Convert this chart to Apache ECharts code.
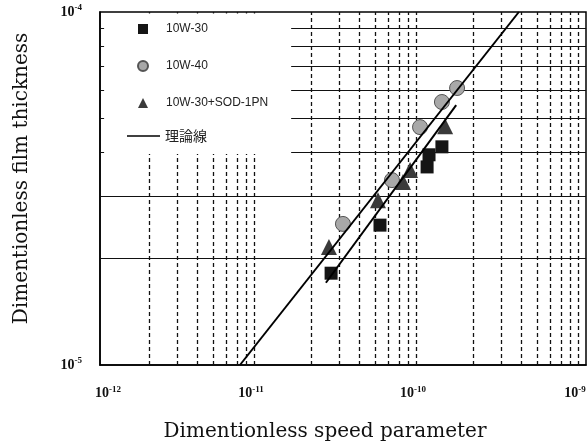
<!DOCTYPE html>
<html>
<head>
<meta charset="utf-8">
<script src="https://cdn.jsdelivr.net/npm/echarts@6/dist/echarts.min.js"></script>
<style>
  html, body { margin: 0; padding: 0; background: #fff; }
  #chart { width: 587px; height: 448px; }
</style>
</head>
<body>
<div id="chart"></div>
<script>
// measured points (log-log)
const oil30X = [2.67e-11, 5.35e-11, 1.045e-10, 1.074e-10, 1.29e-10];
const oil30Y = [1.82e-5, 2.49e-5, 3.64e-5, 3.94e-5, 4.15e-5];
const oil40X = [3.16e-11, 6.34e-11, 9.45e-11, 1.29e-10, 1.6e-10];
const oil40Y = [2.51e-5, 3.34e-5, 4.72e-5, 5.56e-5, 6.09e-5];
const sodX = [2.59e-11, 5.2e-11, 7.42e-11, 8.2e-11, 1.35e-10];
const sodY = [2.16e-5, 2.93e-5, 3.30e-5, 3.57e-5, 4.75e-5];

// theory lines
const theory1X = [7.31e-12, 3.85e-10];
const theory1Y = [1e-5, 1e-4];
const theory2X = [2.48e-11, 1.58e-10];
const theory2Y = [1.71e-5, 5.45e-5];

// axis range and grid lines
const xRange = [1e-12, 1e-9];
const yRange = [1e-5, 1e-4];
const xDecades = [1e-12, 1e-11, 1e-10];
const mantissas = [2, 3, 4, 5, 6, 7, 8, 9];
const yGridLines = [2e-5, 3e-5, 4e-5, 5e-5, 6e-5, 7e-5, 8e-5, 9e-5];
const yTickEnd = 1.06e-12; // short inward minor ticks on the left axis

const names = ['10W-30', '10W-40', '10W-30+SOD-1PN', '理論線'];

const zip = (xs, ys) => xs.map((x, i) => [x, ys[i]]);
const xGridLines = [];
xDecades.forEach(d => mantissas.forEach(m => xGridLines.push(m * d)));

const expOf = v => Math.round(Math.log10(v));
const yLabel = v => '{b|10}{s|' + expOf(v) + '}';
// x labels sit a little off their ticks in the original
const xLabel = v => {
    const e = expOf(v);
    if (e === -12) return '{g1|}{b|10}{s|' + e + '}';
    return '{b|10}{s|' + e + '}{g2|}';
};
const labelRich = {
    b: { fontFamily: 'Liberation Serif', fontSize: 14, fontWeight: 'bold', color: '#111' },
    s: { fontFamily: 'Liberation Serif', fontSize: 9, fontWeight: 'bold', color: '#111', padding: [0, 0, 8, 0] },
    g1: { width: 16 },
    g2: { width: 22 }
};

const chart = echarts.init(document.getElementById('chart'));
chart.setOption({
    animation: false,
    backgroundColor: '#fff',
    grid: {
        left: 100, right: 1, top: 12, bottom: 83,
        outerBoundsMode: 'none',
        containLabel: false,
        show: true, borderColor: '#000', borderWidth: 1.5
    },
    legend: [{
        data: names.slice(0, 3),
        orient: 'vertical',
        left: 101.5, top: 13.5,
        padding: [8.5, 23, 44, 35.5],
        backgroundColor: '#fff',
        itemWidth: 10, itemHeight: 10,
        itemGap: 23,
        z: 4,
        textStyle: { fontFamily: 'Liberation Sans', fontSize: 12, color: '#222', lineHeight: 14, padding: [0, 0, 0, 13] }
    }, {
        data: [{ name: names[3], icon: 'rect' }],
        left: 127, top: 129,
        padding: 0,
        itemWidth: 33, itemHeight: 1.5,
        z: 6,
        textStyle: { fontFamily: 'Noto Sans CJK JP', fontSize: 14, color: '#222', lineHeight: 14 }
    }],
    xAxis: {
        type: 'log', logBase: 10,
        min: xRange[0], max: xRange[1],
        name: 'Dimentionless speed parameter',
        nameLocation: 'middle', nameGap: 57,
        nameTextStyle: { fontFamily: 'DejaVu Serif', fontSize: 20, color: '#111', padding: [0, 36, 0, 0] },
        axisLine: { lineStyle: { color: '#000', width: 1.5 } },
        axisTick: { show: false },
        axisLabel: { margin: 20, formatter: xLabel, rich: labelRich },
        splitLine: { show: false }
    },
    yAxis: {
        type: 'log', logBase: 10,
        min: yRange[0], max: yRange[1],
        name: 'Dimentionless film thickness',
        nameLocation: 'middle', nameGap: 68,
        nameTextStyle: { fontFamily: 'DejaVu Serif', fontSize: 20, color: '#111', padding: [0, 0, 0, 20] },
        axisLine: { lineStyle: { color: '#000', width: 1.5 } },
        axisTick: { show: false },
        axisLabel: { margin: 18, formatter: yLabel, rich: labelRich },
        splitLine: { show: false }
    },
    series: [
        {
            name: 'vgrid', type: 'lines', coordinateSystem: 'cartesian2d',
            silent: true, z: 1,
            lineStyle: { color: '#111', width: 1.3, type: [4, 3], opacity: 1 },
            data: xGridLines.map(v => ({ coords: [[v, yRange[0]], [v, yRange[1]]] }))
        },
        {
            name: 'hgrid', type: 'lines', coordinateSystem: 'cartesian2d',
            silent: true, z: 1,
            lineStyle: { color: '#111', width: 1.2, type: 'solid', opacity: 1 },
            data: yGridLines.map(v => ({ coords: [[xRange[0], v], [xRange[1], v]] }))
        },
        {
            name: 'yticks', type: 'lines', coordinateSystem: 'cartesian2d',
            silent: true, z: 5,
            lineStyle: { color: '#111', width: 1.2, opacity: 1 },
            data: yGridLines.map(v => ({ coords: [[xRange[0], v], [yTickEnd, v]] }))
        },
        {
            name: names[0], type: 'scatter', symbol: 'rect', symbolSize: 13,
            itemStyle: { color: '#151515', opacity: 1 },
            data: zip(oil30X, oil30Y), z: 3
        },
        {
            name: names[1], type: 'scatter', symbol: 'circle', symbolSize: 15,
            itemStyle: { color: '#a8a8a8', borderColor: '#555', borderWidth: 1, opacity: 1 },
            data: zip(oil40X, oil40Y), z: 3
        },
        {
            name: names[2], type: 'scatter', symbol: 'triangle', symbolSize: 16,
            itemStyle: { color: '#3a3a3a', opacity: 1 },
            data: zip(sodX, sodY), z: 3
        },
        {
            name: names[3], type: 'line', symbol: 'none',
            lineStyle: { color: '#000', width: 2 },
            itemStyle: { color: '#000' },
            data: zip(theory1X, theory1Y), z: 4
        },
        {
            name: names[3], type: 'line', symbol: 'none',
            lineStyle: { color: '#000', width: 2 },
            itemStyle: { color: '#000' },
            data: zip(theory2X, theory2Y), z: 4
        }
    ]
});
</script>
</body>
</html>
